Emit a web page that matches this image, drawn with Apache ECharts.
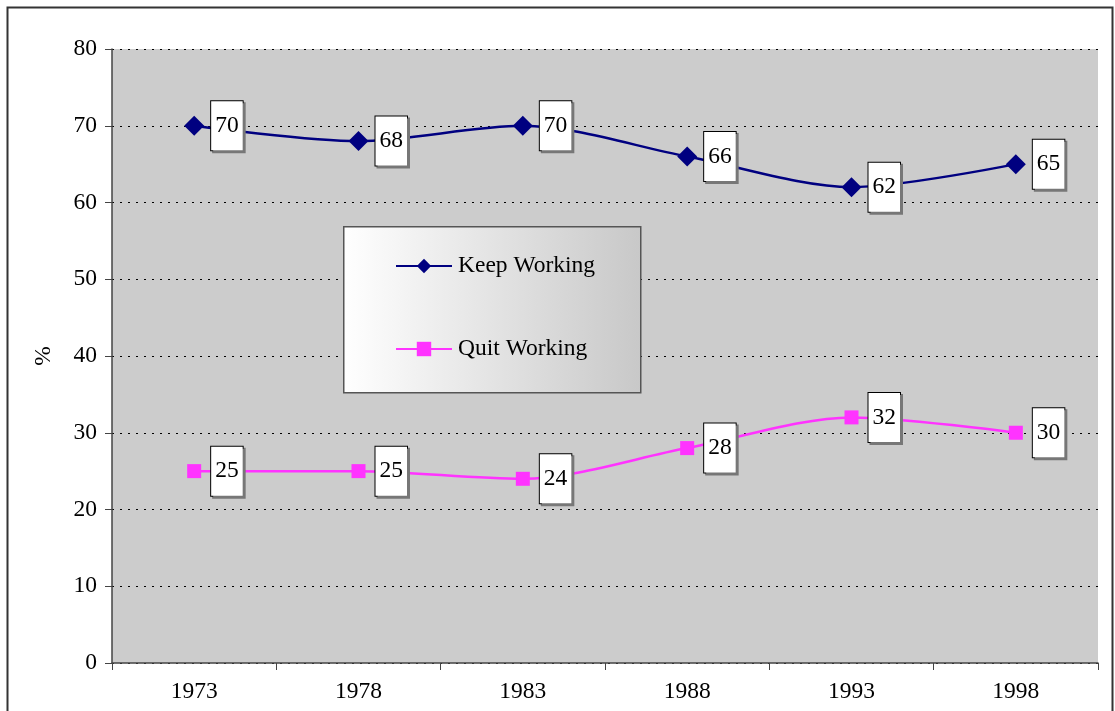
<!DOCTYPE html>
<html><head><meta charset="utf-8">
<script src="https://cdn.jsdelivr.net/npm/echarts@6/dist/echarts.min.js"></script>
<style>html,body{margin:0;padding:0;background:#fff}#c{width:1115px;height:711px}</style>
</head><body><div id="c"></div>
<script>
const years = ['1973','1978','1983','1988','1993','1998'];
const keepWorking = [70, 68, 70, 66, 62, 65];
const quitWorking = [25, 25, 24, 28, 32, 30];
const yTicks = { min: 0, max: 80, interval: 10 };

const FONT = 'Liberation Serif';
const FS = 23.5;
const chart = echarts.init(document.getElementById('c'));
const labelCfg = {
  show: true, position: 'right', distance: 7,
  fontFamily: FONT, fontSize: FS, color: '#000',
  backgroundColor: '#fff', borderColor: '#000', borderWidth: 1,
  padding: [13, 4, 13, 4], lineHeight: 23,
  shadowColor: '#777', shadowOffsetX: 2, shadowOffsetY: 2, shadowBlur: 0
};
chart.setOption({
  animation: false,
  backgroundColor: '#fff',
  grid: { left: 112, right: 17, top: 49, bottom: 48, show: true, backgroundColor: '#CCCCCC', borderWidth: 0 },
  graphic: [
    { type: 'rect', left: 5, top: 5, shape: { width: 1105, height: 720 }, style: { fill: 'none', stroke: '#333', lineWidth: 2 }, z: -1 },
    { type: 'rect', left: 343, top: 226, z: 5,
      shape: { width: 297, height: 166 },
      style: { stroke: '#555', lineWidth: 1.5,
        fill: new echarts.graphic.LinearGradient(0, 0, 1, 0, [{ offset: 0, color: '#FFFFFF' }, { offset: 1, color: '#C8C8C8' }]) } }
  ],
  legend: {
    orient: 'vertical', left: 390, top: 249, itemGap: 59, z: 10,
    itemWidth: 56, itemHeight: 18,
    textStyle: { fontFamily: FONT, fontSize: FS, color: '#000', padding: [0, 0, 0, 1] },
    data: ['Keep Working', 'Quit Working']
  },
  xAxis: {
    type: 'category', data: years, boundaryGap: true,
    axisLine: { lineStyle: { color: '#444', width: 1.5 } },
    axisTick: { show: true, length: 7, lineStyle: { color: '#444' } },
    axisLabel: { fontFamily: FONT, fontSize: FS, color: '#000', margin: 17 },
    splitLine: { show: false }
  },
  yAxis: {
    type: 'value', min: yTicks.min, max: yTicks.max, interval: yTicks.interval,
    name: '%', nameLocation: 'middle', nameGap: 56, nameRotate: 90,
    nameTextStyle: { fontFamily: FONT, fontSize: FS, color: '#000' },
    axisLine: { show: true, lineStyle: { color: '#444', width: 1.5 } },
    axisTick: { show: true, length: 7, lineStyle: { color: '#444' } },
    axisLabel: { fontFamily: FONT, fontSize: FS, color: '#000', margin: 15 },
    splitLine: { show: true, lineStyle: { color: '#000', type: [2, 6], width: 1 } }
  },
  series: [
    { name: 'Keep Working', type: 'line', data: keepWorking, smooth: 0.3,
      symbol: 'diamond', symbolSize: 20,
      lineStyle: { color: '#000080', width: 2.5 }, itemStyle: { color: '#000080' },
      label: labelCfg, z: 3 },
    { name: 'Quit Working', type: 'line', data: quitWorking, smooth: 0.3,
      symbol: 'rect', symbolSize: 14,
      lineStyle: { color: '#FF33FF', width: 2.5 }, itemStyle: { color: '#FF33FF' },
      label: Object.assign({}, labelCfg, { distance: 10 }), z: 3 }
  ]
});
</script></body></html>
